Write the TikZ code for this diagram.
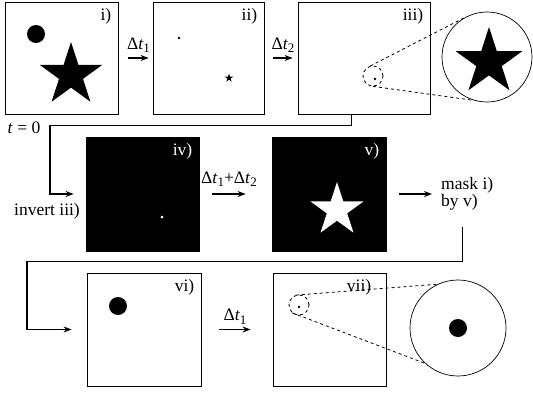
\documentclass[tikz,border=0pt]{standalone}
\usepackage{fontspec}
\setmainfont{Liberation Serif}
\usepackage{tikz}
\usetikzlibrary{arrows.meta,calc,shapes.geometric}

\newcommand{\dtime}[1]{Δ\textit{t}\raisebox{-0.45ex}{\fontsize{13}{13}\selectfont #1}}

\begin{document}
\begin{tikzpicture}[
  x=1pt,y=-1pt,
  font=\fontsize{17.5}{18}\selectfont,
  panel/.style={draw,line width=0.8pt,inner sep=0pt,minimum height=112pt},
  tag/.style={anchor=north east,inner sep=1pt},
  flow/.style={-{Stealth[length=8pt,width=6pt]},line width=1.4pt},
  link/.style={line width=0.9pt},
  dashes/.style={dashed,line width=0.8pt,dash pattern=on 3pt off 3pt},
  zoomin/.style={draw,dashes,circle,inner sep=0pt,minimum size=20pt},
  lens/.style={draw,circle,line width=0.7pt,inner sep=0pt},
  pentagram/.style={star,star points=5,star point ratio=2.618,fill,inner sep=0pt}
]
  \useasboundingbox (0,0) rectangle (533,394);

  % row 1
  \node[panel,minimum width=113pt] (p1) at (61.5,58) {};
  \node[panel,minimum width=111pt] (p2) at (208.5,58) {};
  \node[panel,minimum width=132pt] (p3) at (364,58) {};
  \node[tag] at ([shift={(-6,6)}]p1.north east) {i)};
  \node[tag] at ([shift={(-6,6)}]p2.north east) {ii)};
  \node[tag] at ([shift={(-6,6)}]p3.north east) {iii)};

  \node[circle,fill,minimum size=18pt,inner sep=0pt] (b1) at (36,34) {};
  \node[pentagram,minimum size=66pt] (s1) at (71,75) {};
  \node[circle,fill,minimum size=2.6pt,inner sep=0pt] (b2) at (179,38) {};
  \node[pentagram,minimum size=9pt] (s2) at (229,78) {};
  \node[circle,fill,minimum size=2.6pt,inner sep=0pt] (s3) at (375,79) {};

  \draw[flow] ([xshift=10pt]p1.east) -- node[above=1pt] {\dtime{1}} ([xshift=-4pt]p2.west);
  \draw[flow] ([xshift=9pt]p2.east) -- node[above=1pt] {\dtime{2}} ([xshift=-5pt]p3.west);

  \node[zoomin] (z3) at (373,76) {};
  \node[lens,minimum size=90pt] (m3) at (487,57) {};
  \node[pentagram,minimum size=70pt] (s3big) at (489,62) {};
  \draw[dashes] (z3.105) -- (m3.118);
  \draw[dashes] (z3.270) -- (m3.253);

  % row 2
  \node[panel,fill=black,minimum width=113pt,minimum height=114pt] (p4) at (142.5,194) {};
  \node[panel,fill=black,minimum width=114pt,minimum height=114pt] (p5) at (329,194) {};
  \node[tag,text=white] at ([shift={(-6,6)}]p4.north east) {iv)};
  \node[tag,text=white] at ([shift={(-6,6)}]p5.north east) {v)};
  \node[circle,fill=white,minimum size=3pt,inner sep=0pt] (w4) at (162,217) {};
  \node[pentagram,fill=white,minimum size=56pt] (s5) at (337,210) {};

  \coordinate (c1) at (50,125);
  \node (t0) at (24,128) {\textit{t} = 0};
  \node (inv) at (47,211) {invert iii)};
  \draw[link] ([xshift=-13pt]p3.south) |- (c1);
  \draw[flow] (c1) |- ([xshift=-12pt]p4.west);

  \draw[flow] ([xshift=13pt]p4.east) -- node[above=3pt] {\dtime{1}+\dtime{2}} ([xshift=-26pt]p5.west);
  \node[align=left,anchor=west,inner sep=0pt,font=\fontsize{17.5}{13}\selectfont] (mask) at (441,194) {mask i)\\by v)};
  \draw[flow] ([xshift=13pt]p5.east) -- ([xshift=-9pt]mask.west);

  % row 3
  \node[panel,minimum width=114pt,minimum height=113pt] (p6) at (144,329.5) {};
  \node[panel,minimum width=113pt,minimum height=113pt] (p7) at (329.5,329.5) {};
  \node[tag] at ([shift={(-6,6)}]p6.north east) {vi)};
  \node[tag] at ([shift={(-14,6)}]p7.north east) {vii)};
  \node[circle,fill,minimum size=18pt,inner sep=0pt] (b6) at (118,306) {};
  \node[circle,fill,minimum size=2.6pt,inner sep=0pt] (b7) at (299,307) {};

  \coordinate (c2) at (462,261);
  \coordinate (c3) at (27,261);
  \draw[link] (mask.south -| c2) ++(0,16) -- (c2) -- (c3);
  \draw[flow] (c3) |- ([xshift=-15pt]p6.west);

  \draw[flow] ([xshift=18pt]p6.east) -- node[above=1pt] {\dtime{1}} ([xshift=-22pt]p7.west);

  \node[zoomin] (z7) at (299,305) {};
  \node[lens,minimum size=96pt] (m7) at (458,328) {};
  \node[circle,fill,minimum size=18pt,inner sep=0pt] (b7big) at (458,328) {};
  \draw[dashes] (z7.108) -- (m7.115);
  \draw[dashes] (z7.229) -- (m7.227);
\end{tikzpicture}
\end{document}
